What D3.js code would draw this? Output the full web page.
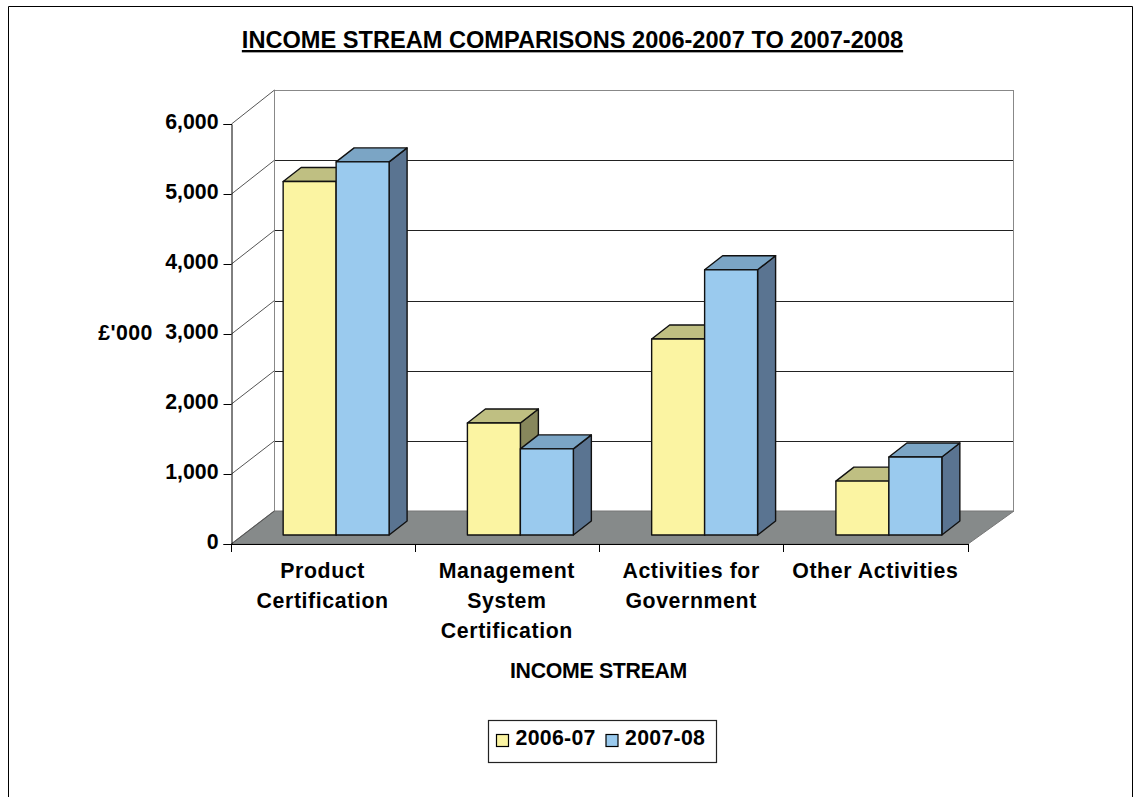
<!DOCTYPE html>
<html>
<head>
<meta charset="utf-8">
<script src="https://cdn.jsdelivr.net/npm/d3@7"></script>
<style>
html,body{margin:0;padding:0;background:#fff}
svg{display:block}
text{font-family:"Liberation Sans",Arial,sans-serif;font-weight:bold;fill:#000}
</style>
</head>
<body>
<svg id="chart" width="1138" height="797"></svg>
<script>
// Income per stream, £'000
const categories = ["Product Certification", "Management System Certification", "Activities for Government", "Other Activities"];
const categoryLines = [["Product", "Certification"], ["Management", "System", "Certification"], ["Activities for", "Government"], ["Other Activities"]];
const seriesNames = ["2006-07", "2007-08"];
const income0607 = [5050, 1600, 2800, 770];
const income0708 = [5330, 1230, 3790, 1115];
const yTicks = [0, 1000, 2000, 3000, 4000, 5000, 6000];

const frontFill = ["#FBF4A2", "#9ACAEE"];
const topFill = ["#BFBF82", "#7BA5C5"];
const sideFill = ["#87875C", "#5A7491"];

const svg = d3.select("#chart");
const fontSize = 21.3;

// Outer chart frame, open at the bottom
svg.append("path").attr("d", "M8.5,797V6.5H1132.5V797").attr("fill", "none").attr("stroke", "#000").attr("stroke-width", 1);

svg.append("text").attr("x", 572.5).attr("y", 48).attr("text-anchor", "middle")
  .attr("font-size", 23.6).attr("text-decoration", "underline").text("INCOME STREAM COMPARISONS 2006-2007 TO 2007-2008");

// Oblique projection: the front axis plane and the wall behind it
const x0 = 231, x1 = 968;
const y = d3.scaleLinear().domain([0, 6000]).range([544, 124]);
const yWall = d3.scaleLinear().domain([0, 6000]).range([511, 90]);
const x = d3.scaleBand().domain(categories).range([x0, x1]).paddingInner(0.425).paddingOuter(0.2125);
const depth = {dx: 43};
const barDepth = {dx: 18, dy: -14};
const barOffset = {dx: 13, dy: -9};

const poly = pts => "M" + pts.map(p => p.join(",")).join("L") + "Z";

// Floor
svg.append("path")
  .attr("d", poly([[x0, y(0)], [x1, y(0)], [x1 + depth.dx + 3, yWall(0)], [x0 + depth.dx, yWall(0)]]))
  .attr("fill", "#868A8A").attr("stroke", "#777").attr("stroke-width", 1);

// Back wall gridlines and side wall diagonals
const backX = x0 + depth.dx + 0.5, backRight = x1 + depth.dx + 3;
svg.append("g").selectAll("line").data(yTicks.slice(1)).join("line")
  .attr("x1", backX).attr("x2", backRight)
  .attr("y1", d => Math.round(yWall(d)) + 0.5).attr("y2", d => Math.round(yWall(d)) + 0.5)
  .attr("stroke", d => d === 6000 ? "#888" : "#222").attr("stroke-width", 1);
svg.append("line").attr("x1", backX).attr("x2", backX).attr("y1", yWall(6000)).attr("y2", yWall(0)).attr("stroke", "#888");
svg.append("line").attr("x1", backRight - 0.5).attr("x2", backRight - 0.5).attr("y1", yWall(6000)).attr("y2", yWall(0)).attr("stroke", "#888");
svg.append("g").selectAll("line").data(yTicks).join("line")
  .attr("x1", x0 + 0.5).attr("x2", backX)
  .attr("y1", d => y(d)).attr("y2", d => yWall(d))
  .attr("stroke", "#555").attr("stroke-width", 1);

// Bars, series drawn left to right so each overlaps its neighbour correctly
const bw = x.bandwidth() / 2;
const bars = svg.append("g").attr("stroke", "#111").attr("stroke-width", 1.4).attr("stroke-linejoin", "round");
categories.forEach((c, i) => {
  [income0607[i], income0708[i]].forEach((v, s) => {
    const l = x(c) + barOffset.dx + s * bw, r = l + bw;
    const b = y(0) + barOffset.dy, t = y(v) + barOffset.dy;
    const g = bars.append("g");
    g.append("path").attr("fill", sideFill[s])
      .attr("d", poly([[r, b], [r + barDepth.dx, b + barDepth.dy], [r + barDepth.dx, t + barDepth.dy], [r, t]]));
    g.append("path").attr("fill", topFill[s])
      .attr("d", poly([[l, t], [r, t], [r + barDepth.dx, t + barDepth.dy], [l + barDepth.dx, t + barDepth.dy]]));
    g.append("path").attr("fill", frontFill[s])
      .attr("d", poly([[l, b], [r, b], [r, t], [l, t]]));
  });
});

// Value axis on the front-left edge
const yAxis = d3.axisLeft(y).tickValues(yTicks).tickSize(8).tickFormat(d3.format(","));
const gy = svg.append("g").attr("transform", `translate(${x0 + 0.5},0)`).call(yAxis);
gy.selectAll("path,line").attr("stroke", "#000");
gy.selectAll("text").attr("font-size", fontSize).attr("x", -13).attr("dy", "0.22em").attr("fill", "#000");
gy.attr("font-family", null);

// Category axis with separators between bands
const edges = d3.range(categories.length + 1).map(i => x0 + (x1 - x0) * i / categories.length);
svg.append("line").attr("x1", x0).attr("x2", x1).attr("y1", y(0) + 0.5).attr("y2", y(0) + 0.5).attr("stroke", "#000");
svg.append("g").selectAll("line").data(edges).join("line")
  .attr("x1", d => Math.floor(d) + 0.5).attr("x2", d => Math.floor(d) + 0.5)
  .attr("y1", y(0)).attr("y2", y(0) + 8).attr("stroke", "#000");

categories.forEach((c, i) => {
  const cx = x(c) + x.bandwidth() / 2 - 0.5;
  categoryLines[i].forEach((line, k) => {
    svg.append("text").attr("x", cx).attr("y", 578 + k * 30).attr("text-anchor", "middle")
      .attr("font-size", fontSize).attr("letter-spacing", 0.6).text(line);
  });
});

svg.append("text").attr("x", 125.5).attr("y", 340).attr("text-anchor", "middle").attr("font-size", fontSize).attr("letter-spacing", 0.4).text("£'000");
svg.append("text").attr("x", 598.5).attr("y", 678).attr("text-anchor", "middle").attr("font-size", fontSize).attr("letter-spacing", -0.3).text("INCOME STREAM");

// Legend
svg.append("rect").attr("x", 488.5).attr("y", 720.5).attr("width", 228).attr("height", 42)
  .attr("fill", "#fff").attr("stroke", "#222").attr("stroke-width", 1.2);
const swatchX = [496.5, 606];
seriesNames.forEach((n, s) => {
  svg.append("rect").attr("x", swatchX[s]).attr("y", 734.5).attr("width", 12).attr("height", 12)
    .attr("fill", frontFill[s]).attr("stroke", "#000").attr("stroke-width", 1.2);
  svg.append("text").attr("x", swatchX[s] + 19).attr("y", 745).attr("font-size", fontSize).attr("letter-spacing", 0.3).text(n);
});
</script>
</body>
</html>
